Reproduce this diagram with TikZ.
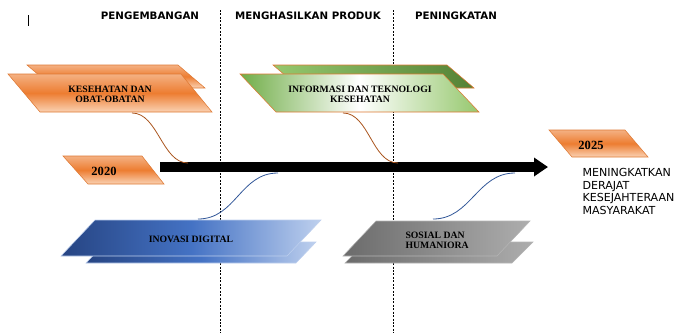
\documentclass[tikz,border=0pt]{standalone}
\usepackage{fontspec}
\setmainfont{Liberation Serif}
\setsansfont{DejaVu Sans}
\usetikzlibrary{arrows.meta}
\definecolor{orangemain}{RGB}{237,125,49}
\definecolor{orangelight}{RGB}{244,177,131}
\definecolor{orangepale}{RGB}{250,210,180}
\definecolor{orangeline}{RGB}{222,120,50}
\definecolor{greenmain}{RGB}{112,173,71}
\definecolor{greendark}{RGB}{84,130,53}
\definecolor{greenlight}{RGB}{150,200,110}
\definecolor{bluedark}{RGB}{38,68,130}
\definecolor{bluemain}{RGB}{68,114,196}
\definecolor{bluelight}{RGB}{190,208,238}
\definecolor{grayline}{RGB}{150,150,150}
\definecolor{linkbrown}{RGB}{170,85,30}
\definecolor{linkblue}{RGB}{47,85,151}
\tikzset{every picture/.style={line width=0.75pt}}
\tikzset{
phase/.style={font=\sffamily\bfseries\fontsize{7.7}{9}\selectfont, inner sep=0.75pt},
boxtext/.style={font=\bfseries\fontsize{7.3}{7.6}\selectfont, inner sep=0.75pt, align=center},
yeartext/.style={font=\bfseries\fontsize{9.4}{11}\selectfont, inner sep=0.75pt},
orangebox/.style={draw=orangeline, line width=0.4pt, top color=orangelight, bottom color=orangepale, middle color=orangemain},
greenbox/.style={draw=orangeline, line width=0.4pt, left color=greenmain, right color=greenlight, middle color=white},
greenback/.style={draw=orangeline, line width=0.4pt, left color=greenlight, right color=greendark},
bluebox/.style={draw=bluelight, line width=0.4pt, left color=bluedark, right color=bluelight, middle color=bluemain},
graybox/.style={draw=grayline!70, line width=0.4pt, left color=black!58, right color=black!32},
phaseline/.style={dash pattern=on 1.5pt off 1.1pt, line width=0.6pt},
link/.style={line width=0.6pt}}

\begin{document}
\begin{tikzpicture}[x=0.75pt,y=0.75pt,yscale=-1]
\useasboundingbox (0,0) rectangle (675,333);

%Straight Lines: phase separators
\draw [phaseline] (220,10) -- (220,333) ;
\draw [phaseline] (393,10) -- (393,333) ;
%Straight Lines: cursor mark
\draw [line width=0.6pt] (28,15) -- (28,26) ;

% Text Node
\node [phase] (hdev) at (150,16) {PENGEMBANGAN};
% Text Node
\node [phase] (hprod) at (308,16) {MENGHASILKAN PRODUK};
% Text Node
\node [phase] (hinc) at (456,16) {PENINGKATAN};

%Shape: Parallelogram (back)
\draw [orangebox] (27,65) -- (178,65) -- (205,88) -- (54,88) -- cycle ;
%Shape: Parallelogram
\draw [orangebox] (8,74) -- (181,74) -- (212,112) -- (40,112) -- cycle ;
%Shape: Parallelogram (back)
\draw [greenback] (273,65) -- (447,65) -- (474,88) -- (300,88) -- cycle ;
%Shape: Parallelogram
\draw [greenbox] (240,74) -- (443,74) -- (479,112) -- (276,112) -- cycle ;
%Shape: Parallelogram
\draw [orangebox] (63,156) -- (142,156) -- (164,184) -- (88,184) -- cycle ;
%Shape: Parallelogram
\draw [orangebox] (549,130) -- (625,130) -- (648,157) -- (572,157) -- cycle ;
%Shape: Parallelogram (back)
\draw [bluebox] (106,242) -- (316,242) -- (296,263) -- (86,263) -- cycle ;
%Shape: Parallelogram
\draw [bluebox] (95,220) -- (321,220) -- (287,256) -- (61,256) -- cycle ;
%Shape: Parallelogram (back)
\draw [graybox] (366,242) -- (533,242) -- (512,263) -- (345,263) -- cycle ;
%Shape: Parallelogram
\draw [graybox] (376,221) -- (530,221) -- (497,256) -- (343,256) -- cycle ;

% Text Node
\node [boxtext] (kesehatan) at (110,94) {KESEHATAN DAN\\OBAT-OBATAN};
% Text Node
\node [boxtext] (informasi) at (360,94) {INFORMASI DAN TEKNOLOGI\\KESEHATAN};
% Text Node
\node [boxtext] (inovasi) at (191,239) {INOVASI DIGITAL};
% Text Node
\node [boxtext, align=left, anchor=west] (sosial) at (404,240) {SOSIAL DAN\\HUMANIORA};
% Text Node
\node [yeartext] (y2020) at (104,171) {2020};
% Text Node
\node [yeartext] (y2025) at (591,145) {2025};
% Text Node
\node [font=\sffamily\fontsize{8.3}{9.4}\selectfont, align=left, anchor=north west, inner sep=0.75pt] (goal) at (581,167) {MENINGKATKAN\\DERAJAT\\KESEJAHTERAAN\\MASYARAKAT};

%Arrow: timeline
\coordinate (tstart) at (160,167) ;
\coordinate (tend) at (548,167) ;
\draw [line width=7.2pt, -{Triangle[length=10.5pt, width=13.5pt]}] (tstart) -- (tend) ;

%Curve Lines
\coordinate (kesbot) at (132,113) ;
\coordinate (infbot) at (343,113) ;
\coordinate (inotop) at (198,219) ;
\coordinate (sostop) at (433,219) ;
\coordinate (t1) at (188,163) ;
\coordinate (t2) at (398,163) ;
\coordinate (t3) at (278,173) ;
\coordinate (t4) at (515,173) ;
\draw [link, linkbrown] (kesbot) .. controls +(26,0) and +(-26,0) .. (t1) ;
\draw [link, linkbrown] (infbot) .. controls +(26,0) and +(-26,0) .. (t2) ;
\draw [link, linkblue] (inotop) .. controls +(38,0) and +(-38,0) .. (t3) ;
\draw [link, linkblue] (sostop) .. controls +(38,0) and +(-38,0) .. (t4) ;

\end{tikzpicture}
\end{document}
